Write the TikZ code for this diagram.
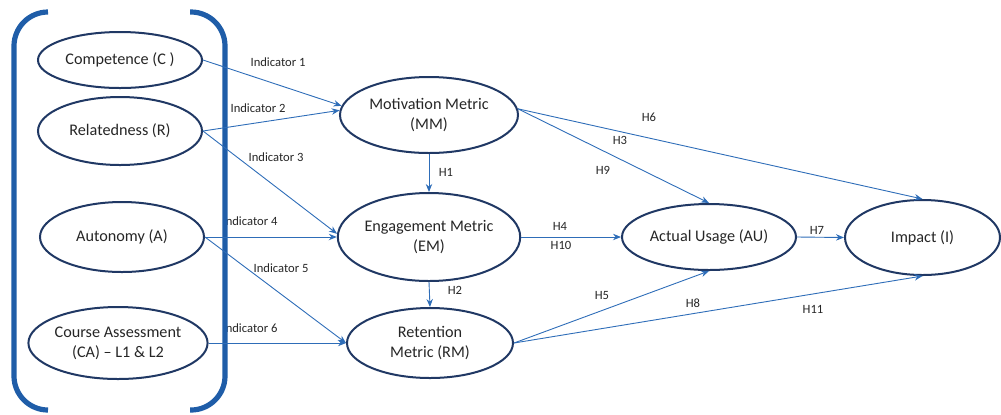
\documentclass[tikz,border=0pt]{standalone}
\usepackage{fontspec}
\setmainfont{Carlito}
\usetikzlibrary{shapes.geometric,arrows.meta}
\definecolor{navy}{HTML}{203864}
\definecolor{arrowblue}{HTML}{2E6DB8}
\definecolor{framblue}{HTML}{1F5DA8}
\definecolor{txt}{HTML}{262626}
\tikzset{
  construct/.style={ellipse, draw=navy, line width=1pt, inner sep=0pt, align=center,
    text=txt, font=\fontsize{8.1pt}{10pt}\selectfont},
  lbl/.style={inner sep=0pt, text=txt, font=\fontsize{6.3pt}{7.5pt}\selectfont},
  link/.style={draw=arrowblue, line width=0.45pt, -{Stealth[length=4pt,width=3.2pt]}},
  frame/.style={draw=framblue, line width=2.6pt, rounded corners=17pt}
}
\begin{document}
\begin{tikzpicture}[x=0.5pt,y=-0.5pt]
\useasboundingbox (0,0) rectangle (1001,414);
\clip (0,0) rectangle (1001,414);
% labels
\node[lbl] (l1) at (278,62) {Indicator 1};
\node[lbl] (l2) at (258,108) {Indicator 2};
\node[lbl] (l3) at (276,157) {Indicator 3};
\node[lbl] (l4) at (250,221) {Indicator 4};
\node[lbl] (l5) at (281,268) {Indicator 5};
\node[lbl] (l6) at (250,328) {Indicator 6};
\node[lbl] (h1) at (446,172) {H1};
\node[lbl] (h2) at (455,290) {H2};
\node[lbl] (h3) at (620,140) {H3};
\node[lbl] (h9) at (603,170) {H9};
\node[lbl] (h6) at (649,117) {H6};
\node[lbl] (h4) at (560,226) {H4};
\node[lbl] (h10) at (561,245) {H10};
\node[lbl] (h5) at (602,295) {H5};
\node[lbl] (h8) at (693,303) {H8};
\node[lbl] (h11) at (813,309) {H11};
\node[lbl] (h7) at (817,230) {H7};
% bracket frame
\draw[frame] (48,12) -- (14,12) -- (14,410) -- (48,410);
\draw[frame] (190,12) -- (225,12) -- (225,410) -- (190,410);
% left constructs
\node[construct, minimum width=82pt, minimum height=28pt] (C) at (120,60) {Competence (C )};
\node[construct, minimum width=82pt, minimum height=34pt] (R) at (120,131) {Relatedness (R)};
\node[construct, minimum width=82pt, minimum height=35pt] (A) at (122,237) {Autonomy (A)};
\node[construct, minimum width=82pt, minimum height=36pt] (CA) at (118,343) {Course Assessment\\(CA) -- L1 \& L2};
% metrics
\node[construct, minimum width=89pt, minimum height=38pt] (MM) at (429,115) {Motivation Metric\\(MM)};
\node[construct, minimum width=89pt, minimum height=44pt] (EM) at (429,237) {Engagement Metric\\(EM)};
\node[construct, minimum width=83pt, minimum height=35pt] (RM) at (430,343) {Retention\\Metric (RM)};
\node[construct, minimum width=87pt, minimum height=33pt] (AU) at (709,237) {Actual Usage (AU)};
\node[construct, minimum width=77.5pt, minimum height=37.5pt] (I) at (922.5,237.5) {Impact (I)};
% indicator arrows
\draw[link] (C.east) -- (MM.174);
\draw[link] (R.east) -- (MM.177);
\draw[link] (R.east) -- (EM.178);
\draw[link] (A.east) -- (EM.west);
\draw[link] (A.east) -- (RM.west);
\draw[link] (CA.east) -- (RM.west);
% hypotheses arrows
\draw[link] (MM.south) -- (EM.north);
\draw[link] (EM.south) -- (RM.north);
\draw[link] (MM.4) -- (AU.north);
\draw[link] (MM.4) -- (I.north);
\draw[link] (EM.east) -- (AU.west);
\draw[link] (RM.east) -- (AU.south);
\draw[link] (RM.east) -- (I.south);
\draw[link] (AU.east) -- (I.west);
\end{tikzpicture}
\end{document}
